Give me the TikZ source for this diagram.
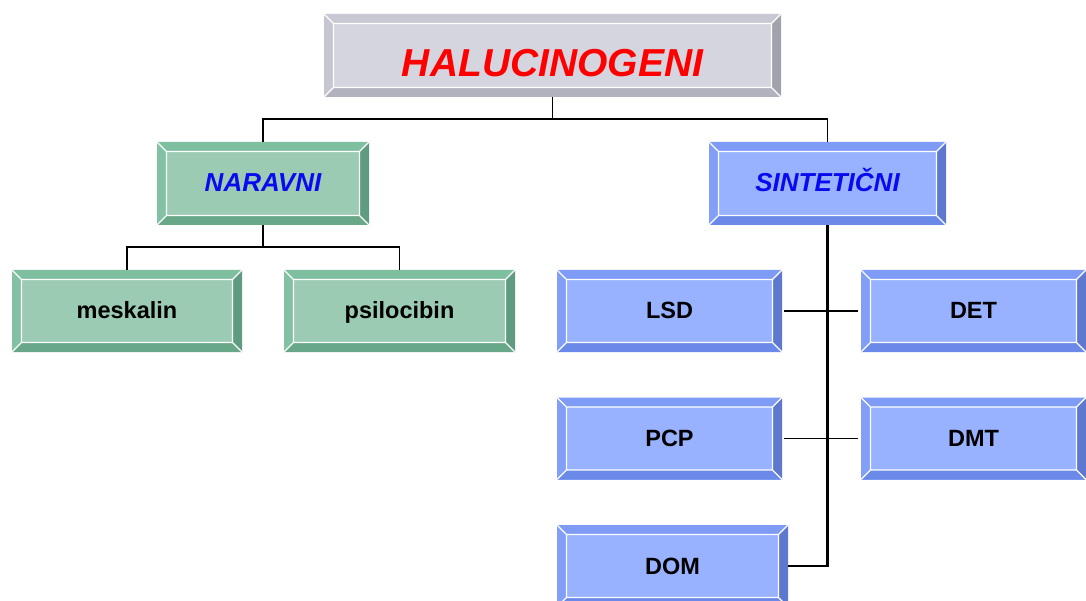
\documentclass[tikz,border=0pt]{standalone}
\usepackage{fontspec}
\setmainfont{Liberation Sans}
\definecolor{gface}{HTML}{D5D5DF}
\definecolor{gtop}{HTML}{C8C8D4}
\definecolor{gleft}{HTML}{C6C6D2}
\definecolor{gright}{HTML}{A2A2AE}
\definecolor{gbot}{HTML}{B2B2BE}
\definecolor{nface}{HTML}{9CCBB3}
\definecolor{ntop}{HTML}{7DBF9F}
\definecolor{nleft}{HTML}{82C2A3}
\definecolor{nright}{HTML}{5F9B7E}
\definecolor{nbot}{HTML}{68A888}
\definecolor{bface}{HTML}{99B2FF}
\definecolor{btop}{HTML}{7E9BF6}
\definecolor{bleft}{HTML}{829EF7}
\definecolor{bright}{HTML}{5E78D0}
\definecolor{bbot}{HTML}{6A89E8}
\definecolor{subblue}{HTML}{0A0AF0}
\tikzset{
  bevel/.style n args={5}{fill=#1, inner sep=0pt, path picture={
    \coordinate (p1) at (path picture bounding box.north west);
    \coordinate (p2) at (path picture bounding box.north east);
    \coordinate (p3) at (path picture bounding box.south east);
    \coordinate (p4) at (path picture bounding box.south west);
    \coordinate (q1) at ([xshift=9.5pt,yshift=-9.5pt]p1);
    \coordinate (q2) at ([xshift=-9.5pt,yshift=-9.5pt]p2);
    \coordinate (q3) at ([xshift=-9.5pt,yshift=9.5pt]p3);
    \coordinate (q4) at ([xshift=9.5pt,yshift=9.5pt]p4);
    \fill[#2] (p1)--(p2)--(q2)--(q1)--cycle;
    \fill[#3] (p1)--(q1)--(q4)--(p4)--cycle;
    \fill[#4] (p2)--(p3)--(q3)--(q2)--cycle;
    \fill[#5] (p4)--(q4)--(q3)--(p3)--cycle;
    \draw[white, line width=1.1pt] (q1) rectangle (q3) (p1)--(q1) (p2)--(q2) (p3)--(q3) (p4)--(q4);
  }},
  greybox/.style={bevel={gface}{gtop}{gleft}{gright}{gbot}},
  greenbox/.style={bevel={nface}{ntop}{nleft}{nright}{nbot}},
  bluebox/.style={bevel={bface}{btop}{bleft}{bright}{bbot}},
  titlefont/.style={font=\fontsize{39}{40}\selectfont\bfseries\itshape, text=red, text height=43pt, text depth=0pt},
  subfont/.style={font=\fontsize{26}{28}\selectfont\bfseries\itshape, text=subblue, text height=19pt, text depth=2pt},
  leaffont/.style={font=\fontsize{23.5}{25}\selectfont\bfseries, text=black, text height=18pt, text depth=2pt},
  leaf/.style={minimum width=#1, minimum height=82pt},
  tree/.style={line width=1.8pt, black},
  thick tree/.style={line width=2.8pt, black},
}
\begin{document}
\begin{tikzpicture}[x=1pt,y=-1pt]
\useasboundingbox (0,0) rectangle (1086,601);
\clip (0,0) rectangle (1086,601);
\fill[white] (0,0) rectangle (1086,601);

\node[greybox, titlefont, minimum width=457pt, minimum height=83pt] (hal) at (552.5,55.5) {HALUCINOGENI};

\node[greenbox, subfont, minimum width=212pt, minimum height=83pt] (nar) at (263,183.5) {NARAVNI};
\node[bluebox, subfont, minimum width=237pt, minimum height=83pt] (sin) at (827.5,183.5) {SINTETIČNI};

\node[greenbox, leaffont, leaf=230pt] (mes) at (127,311) {meskalin};
\node[greenbox, leaffont, leaf=231pt] (psi) at (399.5,311) {psilocibin};

\node[bluebox, leaffont, leaf=225pt] (lsd) at (669.5,311) {LSD};
\node[bluebox, leaffont, leaf=225pt] (det) at (973.5,311) {DET};
\node[bluebox, leaffont, leaf=225pt] (pcp) at (669.5,438.5) {PCP};
\node[bluebox, leaffont, leaf=225pt] (dmt) at (973.5,438.5) {DMT};
\node[bluebox, leaffont, leaf=231pt] (dom) at (672.5,566) {DOM};

\coordinate (hj) at (552.5,119);
\coordinate (nj) at (263,247);
\draw[tree] (hal.south) -- (hj);
\draw[tree] (nar.north) |- (hj) -| (sin.north);
\draw[tree] (nar.south) -- (nj);
\draw[tree] (mes.north) |- (nj) -| (psi.north);
\draw[thick tree] (sin.south) |- (dom.east);
\draw[tree, shorten <=2pt, shorten >=3pt] (lsd.east) -- (det.west);
\draw[tree, shorten <=2pt, shorten >=3pt] (pcp.east) -- (dmt.west);
\end{tikzpicture}
\end{document}
